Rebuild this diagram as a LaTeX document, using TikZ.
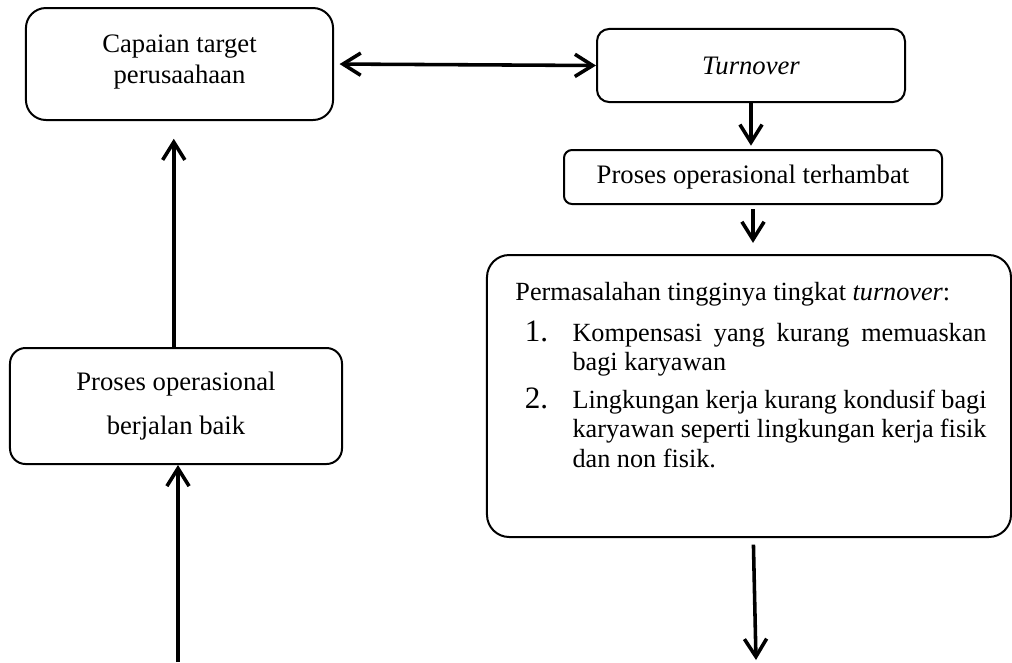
\documentclass[tikz,border=0pt]{standalone}
\usepackage{fontspec}
\setmainfont{Liberation Serif}
\usetikzlibrary{arrows.meta}
\tikzset{
  box/.style={draw, line width=.9pt, align=center, inner sep=2pt,
    font=\fontsize{12}{15}\selectfont},
  arr/.style={line width=1.6pt, >={Straight Barb[length=8pt,width=10pt,line width=1.6pt]}},
}
\begin{document}
\begin{tikzpicture}[x=.45pt, y=-.45pt]
  \useasboundingbox (0,0) rectangle (1012,662);
  \node[box, rounded corners=9pt, minimum width=138.2pt, minimum height=50.4pt]
    (A) at (179.5,64) {Capaian target\\[-1pt]perusaahaan\\[-11pt]\mbox{}};
  \node[box, rounded corners=5.5pt, minimum width=138.6pt, minimum height=32.9pt]
    (B) at (751,65.5) {\textit{Turnover}};
  \node[box, rounded corners=3.6pt, minimum width=170.1pt, minimum height=24.3pt]
    (C) at (753,177) {Proses operasional terhambat};
  \node[box, rounded corners=10pt, minimum width=235.8pt, minimum height=126.9pt]
    (D) at (749,396) {};
  \node[box, rounded corners=7pt, minimum width=149.4pt, minimum height=52.2pt]
    (E) at (176,406) {Proses operasional\\[5pt]berjalan baik};
  \node[anchor=north west, inner sep=0pt, text width=212pt, align=justify,
    font=\fontsize{11.8}{13.2}\selectfont] (Dtext) at (515,282) {%
    Permasalahan tingginya tingkat \textit{turnover}:\par
    \begin{list}{\fontsize{14}{14}\selectfont\arabic{enumi}.}{\usecounter{enumi}%
      \leftmargin=25.7pt\labelwidth=12pt\labelsep=11pt\itemsep=4pt\topsep=3pt\parsep=0pt}
      \item Kompensasi yang kurang memuaskan bagi karyawan
      \item Lingkungan kerja kurang kondusif bagi karyawan seperti
        lingkungan kerja fisik dan non fisik.
    \end{list}};
  \coordinate (Ein) at (178,662);
  \coordinate (Dout) at (756,660);
  % connectors
  \draw[arr, <->, shorten <=2.5pt] (A.east) -- (B.west);
  \draw[arr, ->, shorten >=1.5pt] (B.south) -- (B.south |- C.north);
  \draw[arr, ->, shorten <=2pt, shorten >=5pt] (C.south) -- (C.south |- D.north);
  \draw[arr, ->, shorten >=8pt] ([xshift=-1pt]E.north) -- ([xshift=-1pt]E.north |- A.south);
  \draw[arr, ->] (Ein) -- (Ein |- E.south);
  \draw[arr, ->] ([xshift=2pt,yshift=-3pt]D.south) -- (Dout);
\end{tikzpicture}
\end{document}
